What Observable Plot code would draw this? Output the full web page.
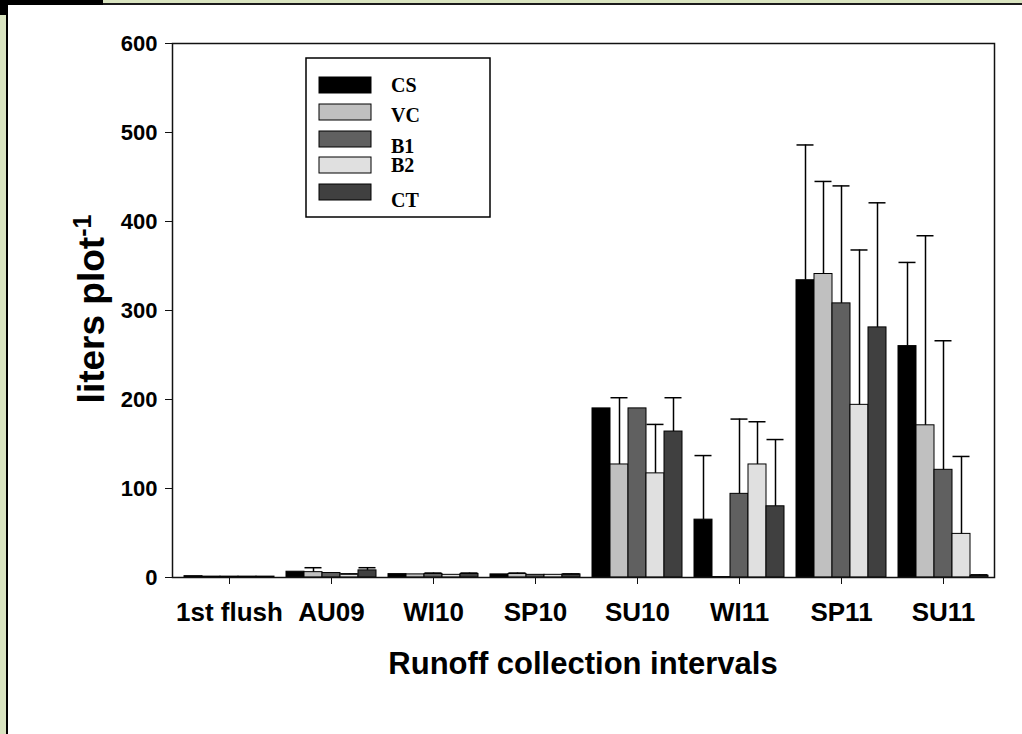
<!DOCTYPE html>
<html>
<head>
<meta charset="utf-8">
<script src="https://cdn.jsdelivr.net/npm/d3@7"></script>
<script src="https://cdn.jsdelivr.net/npm/@observablehq/plot@0.6"></script>
<style>
html, body { margin: 0; padding: 0; width: 1022px; height: 734px; overflow: hidden; background: #d9e4c0; }
#blk1 { position: absolute; left: 0; top: 0; width: 103px; height: 5px; background: #000; }
#blk2 { position: absolute; left: 0; top: 0; width: 8px; height: 15px; background: #000; }
#panel { position: absolute; left: 6px; top: 3px; width: 1100px; height: 800px; background: #fff;
         border-left: 2px solid #000; border-top: 2px solid #1a1a1a; }
#chart { position: absolute; left: 0; top: 0; }
#overlay { position: absolute; left: 0; top: 0; }
</style>
</head>
<body>
<div id="panel"></div>
<div id="blk1"></div>
<div id="blk2"></div>
<div id="chart"></div>
<svg id="overlay" width="1022" height="734"></svg>
<script>
// ---- data ----
const intervals = ["1st flush", "AU09", "WI10", "SP10", "SU10", "WI11", "SP11", "SU11"];
const treatments = ["CS", "VC", "B1", "B2", "CT"];
const treatmentColors = ["#000000", "#c0c0c0", "#606060", "#e0e0e0", "#404040"];
const yTicks = [0, 100, 200, 300, 400, 500, 600];

// mean runoff (liters plot-1), one array per treatment, in interval order
const csMean = [1.5, 6.5, 3.8, 3.5, 190, 65, 334, 260];
const vcMean = [1, 6, 3.5, 4, 127, 0.5, 341, 171];
const b1Mean = [1, 5, 4, 3, 190, 94, 308, 121];
const b2Mean = [1, 3.5, 3, 3, 117, 127, 194, 49];
const ctMean = [1, 8, 4, 3.5, 164, 80, 281, 2];

// top of error bar (mean + error), null = no visible error bar
const csUpper = [null, null, null, null, null, 137, 486, 354];
const vcUpper = [null, 11, null, 5, 202, null, 445, 384];
const b1Upper = [null, null, 5, null, null, 178, 440, 266];
const b2Upper = [null, 4, null, null, 172, 175, 368, 136];
const ctUpper = [null, 11, 5, 4, 202, 155, 421, 3];

const means = [csMean, vcMean, b1Mean, b2Mean, ctMean];
const uppers = [csUpper, vcUpper, b1Upper, b2Upper, ctUpper];

const data = [];
treatments.forEach((t, j) => intervals.forEach((iv, i) => {
  data.push({interval: iv, treatment: t, mean: means[j][i], upper: uppers[j][i]});
}));
const errData = data.filter(d => d.upper != null);

const chart = Plot.plot({
  width: 1022,
  height: 640,
  marginLeft: 178,
  marginRight: 28,
  marginTop: 43,
  marginBottom: 63,
  style: {background: "transparent", fontFamily: "'Liberation Sans', Arial, sans-serif", color: "#000"},
  fx: {domain: intervals, padding: 0, label: null},
  x: {domain: treatments, paddingInner: 0, paddingOuter: 0.333, axis: null},
  y: {domain: [0, 600], label: null},
  color: {domain: treatments, range: treatmentColors},
  marks: [
    Plot.barY(data, {fx: "interval", x: "treatment", y: "mean", fill: "treatment", stroke: "#000", strokeWidth: 1}),
    Plot.ruleX(errData, {fx: "interval", x: "treatment", y1: "mean", y2: "upper", stroke: "#000", strokeWidth: 1.5}),
    Plot.tickY(errData, {fx: "interval", x: "treatment", y: "upper", stroke: "#000", strokeWidth: 1.5, insetLeft: 0.5, insetRight: 0.5}),
    Plot.frame({facet: "super", insetLeft: -6, stroke: "#111", strokeWidth: 1.5}),
    Plot.axisY({ticks: yTicks, tickSize: 7, dx: -6, tickPadding: 8, fontSize: 22, fontWeight: "bold", label: null, stroke: "#111"}),
    Plot.axisFx({anchor: "bottom", tickSize: 7, tickPadding: 18, fontSize: 26, fontWeight: "bold", label: null, stroke: "#111"})
  ]
});
document.getElementById("chart").appendChild(chart);

// ---- overlay: legend and axis titles ----
const ov = d3.select("#overlay");
const lg = ov.append("g");
lg.append("rect").attr("x", 306).attr("y", 58).attr("width", 184).attr("height", 159)
  .attr("fill", "#fff").attr("stroke", "#000").attr("stroke-width", 1.5);
const swTop = [77, 104, 131, 157, 184];
const lbBase = [92, 122, 153, 172, 207];
treatments.forEach((t, j) => {
  lg.append("rect").attr("x", 319).attr("y", swTop[j]).attr("width", 52).attr("height", 16)
    .attr("fill", treatmentColors[j]).attr("stroke", "#000").attr("stroke-width", 1);
  lg.append("text").attr("x", 391).attr("y", lbBase[j]).text(t)
    .attr("font-family", "'Liberation Serif', 'Times New Roman', serif")
    .attr("font-weight", "bold").attr("font-size", 20);
});

ov.append("text").attr("x", 583).attr("y", 674).attr("text-anchor", "middle")
  .attr("font-family", "'Liberation Sans', Arial, sans-serif").attr("font-weight", "bold").attr("font-size", 31)
  .text("Runoff collection intervals");

const yl = ov.append("text").attr("transform", "translate(104,309) rotate(-90)").attr("text-anchor", "middle")
  .attr("font-family", "'Liberation Sans', Arial, sans-serif").attr("font-weight", "bold").attr("font-size", 37);
yl.append("tspan").text("liters plot");
yl.append("tspan").attr("dy", -13).attr("font-size", 25).text("-1");
</script>
</body>
</html>
